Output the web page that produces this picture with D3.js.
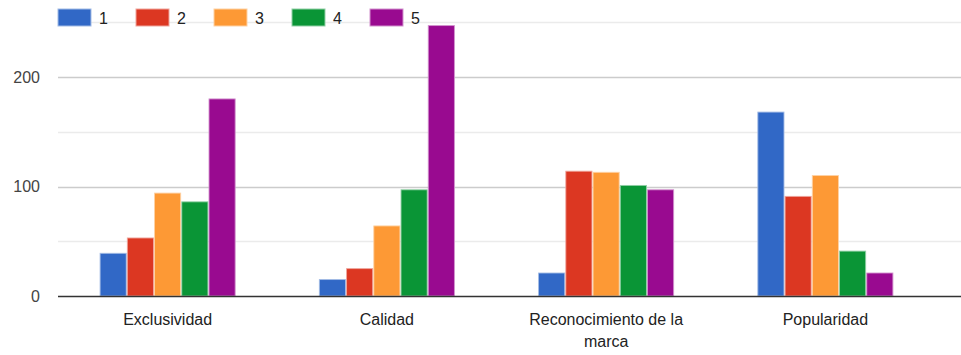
<!DOCTYPE html>
<html>
<head>
<meta charset="utf-8">
<script src="https://cdn.jsdelivr.net/npm/d3@7"></script>
<style>
  html, body { margin: 0; padding: 0; background: #fff; }
  svg { display: block; font-family: "Liberation Sans", Arial, sans-serif; }
</style>
</head>
<body>
<svg id="chart" width="961" height="355"></svg>
<script>
const categories = ["Exclusividad", "Calidad", "Reconocimiento de la marca", "Popularidad"];
const seriesNames = ["1", "2", "3", "4", "5"];
const series1 = [39, 15, 21, 168];
const series2 = [53, 25, 114, 91];
const series3 = [94, 64, 113, 110];
const series4 = [86, 97, 101, 41];
const series5 = [180, 247, 97, 21];
const colors = ["#3168c6", "#dc3722", "#fd9935", "#0a9536", "#990a90"];
const yTicks = [0, 100, 200];
const gridValues = [50, 100, 150, 200, 250];

const seriesValues = [series1, series2, series3, series4, series5];

const svg = d3.select("#chart");
const W = 961, H = 355;
const plotLeft = 58, plotRight = 935, plotBottom = 296, plotTop = 22.3;

const x0 = d3.scaleBand().domain(categories).range([plotLeft, plotRight])
  .paddingInner(0.384).paddingOuter(0.192);
const x1 = d3.scaleBand().domain(seriesNames).range([0, x0.bandwidth()]).paddingInner(0.04);
const y = d3.scaleLinear().domain([0, 250]).range([plotBottom, plotTop]);

// gridlines
svg.append("g").selectAll("line").data(gridValues).join("line")
  .attr("x1", plotLeft).attr("x2", W)
  .attr("y1", d => Math.round(y(d)) + 0.5).attr("y2", d => Math.round(y(d)) + 0.5)
  .attr("stroke", d => (d % 100 === 0) ? "#cccccc" : "#ebebeb")
  .attr("stroke-width", 1.3);

// y axis labels
const yAxis = d3.axisLeft(y).tickValues(yTicks).tickSize(0).tickPadding(0);
const ya = svg.append("g").attr("transform", `translate(${plotLeft - 18},0)`).call(yAxis);
ya.select(".domain").remove();
ya.selectAll("text").attr("font-size", 16).attr("fill", "#444")
  .attr("font-family", "'Liberation Sans', Arial, sans-serif");

// bars
const groups = svg.append("g").selectAll("g").data(categories).join("g")
  .attr("transform", d => `translate(${x0(d)},0)`);
groups.selectAll("rect")
  .data((c, ci) => seriesNames.map((s, si) => ({ s, si, v: seriesValues[si][ci] })))
  .join("rect")
  .attr("x", d => x1(d.s))
  .attr("y", d => y(d.v))
  .attr("width", x1.bandwidth())
  .attr("height", d => plotBottom - y(d.v))
  .attr("fill", d => colors[d.si])
  .attr("stroke", d => d3.interpolateRgb(colors[d.si], "#ffffff")(0.55))
  .attr("stroke-width", 0.9);

// baseline
svg.append("line").attr("x1", plotLeft).attr("x2", W)
  .attr("y1", plotBottom + 0.5).attr("y2", plotBottom + 0.5)
  .attr("stroke", "#333").attr("stroke-width", 1.5);

// x axis labels
const xAxis = d3.axisBottom(x0).tickSize(0).tickPadding(0);
const xa = svg.append("g").attr("transform", `translate(0,${plotBottom})`).call(xAxis);
xa.select(".domain").remove();
xa.selectAll("text").attr("font-size", 16).attr("fill", "#222")
  .attr("font-family", "'Liberation Sans', Arial, sans-serif")
  .attr("dy", null).attr("y", 0)
  .each(function(d) {
    const t = d3.select(this);
    const words = d.split(" ");
    t.text(null);
    let line = [];
    let lineNo = 0;
    let tspan = t.append("tspan").attr("x", 0).attr("y", 29);
    for (const w of words) {
      line.push(w);
      tspan.text(line.join(" "));
      if (tspan.node().getComputedTextLength() > 175 && line.length > 1) {
        line.pop();
        tspan.text(line.join(" "));
        line = [w];
        lineNo++;
        tspan = t.append("tspan").attr("x", 0).attr("y", 29 + lineNo * 22).text(w);
      }
    }
  });

// legend
const legend = svg.append("g");
const items = legend.selectAll("g").data(seriesNames).join("g")
  .attr("transform", (d, i) => `translate(${58 + i * 78},9)`);
items.append("rect").attr("width", 33).attr("height", 17)
  .attr("fill", (d, i) => colors[i])
  .attr("stroke", (d, i) => d3.interpolateRgb(colors[i], "#ffffff")(0.55))
  .attr("stroke-width", 1);
items.append("text").attr("x", 41).attr("y", 15).text(d => d)
  .attr("font-size", 16).attr("fill", "#222");
</script>
</body>
</html>
